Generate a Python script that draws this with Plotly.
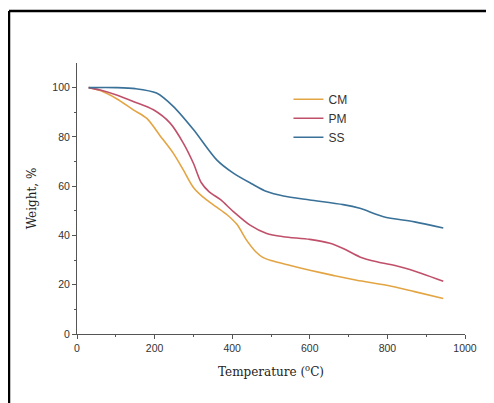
import plotly.graph_objects as go

cm_t = [30, 60, 102, 145, 180, 214, 248, 274, 300, 334, 360, 386, 412, 437, 460, 480, 500, 550, 600, 660, 721, 798, 870, 944]
cm_w = [100, 98.8, 95.5, 91, 87.5, 80.5, 73.4, 66.6, 59.5, 54.4, 51.5, 48.5, 44.5, 38.1, 33.5, 31, 29.8, 27.8, 25.9, 23.8, 21.8, 19.8, 17.2, 14.4]

pm_t = [30, 60, 102, 145, 197, 240, 274, 300, 320, 340, 370, 403, 446, 489, 532, 600, 652, 686, 729, 773, 832, 890, 944]
pm_w = [100, 99, 97, 94.4, 91, 85.6, 77.5, 69.3, 61.5, 57.8, 54.5, 49.7, 44.2, 40.8, 39.5, 38.4, 36.8, 34.7, 31.3, 29.3, 27.3, 24.5, 21.4]

ss_t = [30, 100, 150, 205, 248, 300, 360, 403, 450, 489, 532, 600, 686, 729, 790, 870, 944]
ss_w = [100, 100, 99.6, 97.8, 92.4, 83, 70.7, 65.3, 61, 57.8, 56, 54.4, 52.5, 51, 47.6, 45.5, 43]

fig = go.Figure()
fig.add_trace(go.Scatter(x=cm_t, y=cm_w, name="CM", mode="lines",
                         line=dict(color="#E3A544", width=1.6, shape="spline", smoothing=0.8)))
fig.add_trace(go.Scatter(x=pm_t, y=pm_w, name="PM", mode="lines",
                         line=dict(color="#C0506A", width=1.6, shape="spline", smoothing=0.8)))
fig.add_trace(go.Scatter(x=ss_t, y=ss_w, name="SS", mode="lines",
                         line=dict(color="#3A7199", width=1.6, shape="spline", smoothing=0.8)))

axis_common = dict(showline=True, linecolor="#555555", linewidth=1, showgrid=False,
                   zeroline=False, ticks="outside", ticklen=4, tickcolor="#555555",
                   automargin=False,
                   tickfont=dict(family="Liberation Sans, Arial", size=10.5, color="#333333"))

fig.update_xaxes(range=[0, 1000], tickvals=[0, 200, 400, 600, 800, 1000],
                 minor=dict(tickvals=[100, 300, 500, 700, 900], ticks="outside", ticklen=2,
                            tickcolor="#555555"),
                 title=dict(text="Temperature (<sup>o</sup>C)",
                            font=dict(family="DejaVu Serif, Liberation Serif", size=12, color="#222222"),
                            standoff=15),
                 **axis_common)
fig.update_yaxes(range=[0, 110], tickvals=[0, 20, 40, 60, 80, 100],
                 minor=dict(tickvals=[10, 30, 50, 70, 90], ticks="outside", ticklen=2,
                            tickcolor="#555555"),
                 title=dict(text="Weight, %",
                            font=dict(family="DejaVu Serif, Liberation Serif", size=12, color="#222222"),
                            standoff=13),
                 **axis_common)

# page body has an 8px offset; margins compensate so the plot area lands at x 77..465, y 63..334
L, T, W, H = 69, 55, 388, 271
fig.update_layout(
    width=494, height=403,
    margin=dict(l=L, r=494 - L - W, t=T, b=403 - T - H),
    paper_bgcolor="white", plot_bgcolor="white",
    showlegend=True,
    legend=dict(x=0.545, y=0.92, xanchor="left", yanchor="top",
                bgcolor="rgba(0,0,0,0)", tracegroupgap=0,
                font=dict(family="Liberation Sans, Arial", size=12, color="#333333"),
                itemwidth=30),
    shapes=[
        dict(type="line", xref="paper", yref="paper", x0=(1 - L) / W, x1=(500 - L) / W,
             y0=1 + (T - 3) / H, y1=1 + (T - 3) / H, line=dict(color="black", width=2.5)),
        dict(type="line", xref="paper", yref="paper", x0=(1 - L) / W, x1=(1 - L) / W,
             y0=1 + (T - 3) / H, y1=-(410 - T - H) / H, line=dict(color="black", width=2.5)),
    ],
)

fig.write_html("out.html")
